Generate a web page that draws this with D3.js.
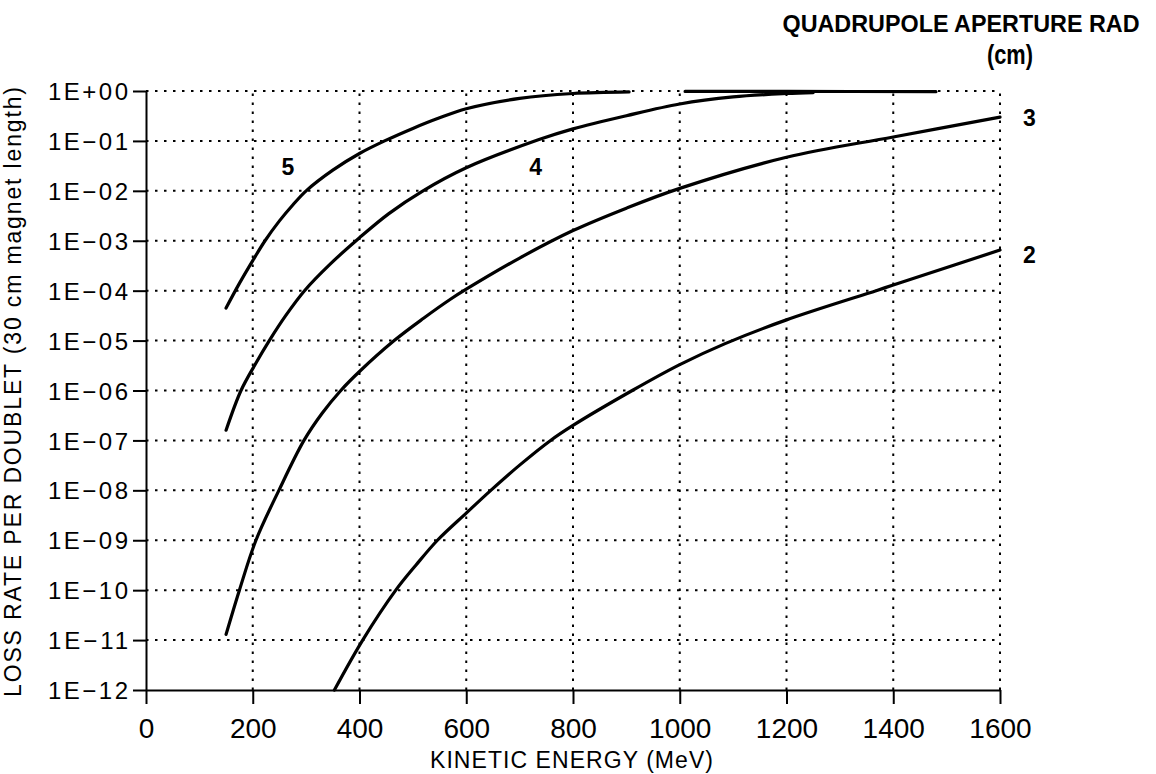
<!DOCTYPE html>
<html><head><meta charset="utf-8">
<script src="https://cdn.jsdelivr.net/npm/d3@7"></script>
<style>
body{margin:0;background:#fff}
svg{display:block}
text{font-family:"Liberation Sans",Arial,sans-serif;fill:#000}
</style>
</head><body>
<svg id="chart" width="1156" height="774"></svg>
<script>
// ---- data ----
const xTicks = [0, 200, 400, 600, 800, 1000, 1200, 1400, 1600];
const xTickLabels = ["0", "200", "400", "600", "800", "1000", "1200", "1400", "1600"];
const yTicks = [1, 1e-1, 1e-2, 1e-3, 1e-4, 1e-5, 1e-6, 1e-7, 1e-8, 1e-9, 1e-10, 1e-11, 1e-12];
const yTickLabels = ["1E+00", "1E\u221201", "1E\u221202", "1E\u221203", "1E\u221204", "1E\u221205", "1E\u221206",
                     "1E\u221207", "1E\u221208", "1E\u221209", "1E\u221210", "1E\u221211", "1E\u221212"];

// aperture radius 5 cm (null marks the break in the drawn line)
const r5Energy = [150, 175, 200, 223, 250, 275, 300, 350, 400, 447, 500, 550, 600, 700, 800, 905, 955, 1010, 1200, 1480];
const r5Loss   = [4.5e-5, 1.4e-4, 4e-4, 1e-3, 2.5e-3, 5.2e-3, 1e-2, 2.6e-2, 5.6e-2, 0.1, 0.178, 0.29, 0.44, 0.71, 0.89, 0.96, null, 0.98, 0.98, 0.97];
// aperture radius 4 cm
const r4Energy = [150, 178, 205, 231, 262, 297, 345, 400, 455, 519, 600, 735, 800, 900, 1000, 1100, 1200, 1250];
const r4Loss   = [1.6e-7, 1e-6, 3.4e-6, 1e-5, 3.2e-5, 1e-4, 3.4e-4, 1.15e-3, 3.5e-3, 1e-2, 2.9e-2, 0.105, 0.174, 0.32, 0.55, 0.76, 0.89, 0.93];
// aperture radius 3 cm
const r3Energy = [150, 175, 206, 249, 296, 330, 365, 400, 465, 520, 571, 600, 700, 800, 900, 1000, 1200, 1400, 1600];
const r3Loss   = [1.3e-11, 1e-10, 1e-9, 1e-8, 1e-7, 3.5e-7, 1e-6, 2.4e-6, 1e-5, 2.8e-5, 6.8e-5, 1.07e-4, 4.5e-4, 1.6e-3, 4.5e-3, 1.12e-2, 4.7e-2, 0.12, 0.3];
// aperture radius 2 cm
const r2Energy = [353, 406, 468, 506, 546, 600, 646, 700, 758, 800, 911, 1000, 1085, 1200, 1368, 1400, 1600];
const r2Loss   = [1e-12, 1e-11, 1e-10, 3.2e-10, 1e-9, 3.5e-9, 1e-8, 3.2e-8, 1e-7, 2e-7, 1e-6, 3.3e-6, 8.7e-6, 2.6e-5, 1e-4, 1.3e-4, 6.5e-4];

const seriesNames = ["5", "4", "3", "2"];
const labelEnergy = [266, 730, 1655, 1655];
const labelLoss = [0.03, 0.03, 0.295, 5.2e-4];

const xTitle = "KINETIC ENERGY (MeV)";
const yTitle = "LOSS RATE PER DOUBLET (30 cm magnet length)";
const legendTitle = "QUADRUPOLE APERTURE RAD";
const legendUnit = "(cm)";

// ---- chart ----
const svg = d3.select("#chart");
const X0 = 146, X1 = 1000, Y0 = 91, Y1 = 690;
const x = d3.scaleLinear().domain([0, 1600]).range([X0, X1]);
const y = d3.scaleLog().domain([1e-12, 1]).range([Y1, Y0]);

// dotted grid
const grid = svg.append("g").attr("stroke", "#000").attr("stroke-width", 2)
  .attr("stroke-dasharray", "2.5,6.5").attr("fill", "none");
grid.selectAll("line.h").data(yTicks.slice(0, -1)).join("line")
  .attr("x1", X0).attr("x2", X1).attr("y1", d => y(d)).attr("y2", d => y(d));
grid.selectAll("line.v").data(xTicks.slice(1)).join("line")
  .attr("x1", d => x(d)).attr("x2", d => x(d)).attr("y1", Y1).attr("y2", Y0);

// axes
const yAxis = svg.append("g").attr("transform", `translate(${X0},0)`)
  .call(d3.axisLeft(y).tickValues(yTicks).tickFormat((d, i) => yTickLabels[i])
    .tickSize(13).tickSizeOuter(0).tickPadding(5));
yAxis.selectAll("text").attr("font-size", 24).attr("font-family", '"Liberation Sans",Arial,sans-serif')
  .attr("textLength", 80).attr("lengthAdjust", "spacing").attr("dy", "0.36em");

const xAxis = svg.append("g").attr("transform", `translate(0,${Y1})`)
  .call(d3.axisBottom(x).tickValues(xTicks).tickFormat((d, i) => xTickLabels[i])
    .tickSize(14).tickSizeOuter(0));
xAxis.selectAll("text").attr("font-size", 28).attr("font-family", '"Liberation Sans",Arial,sans-serif')
  .attr("y", 48).attr("dy", 0);

svg.selectAll(".domain, .tick line").attr("stroke", "#000").attr("stroke-width", 2);
svg.selectAll(".tick text").attr("fill", "#000");

// curves
const series = [
  {e: r5Energy, v: r5Loss},
  {e: r4Energy, v: r4Loss},
  {e: r3Energy, v: r3Loss},
  {e: r2Energy, v: r2Loss}
];
const line = d3.line()
  .defined(d => d[1] != null)
  .x(d => x(d[0])).y(d => y(d[1]))
  .curve(d3.curveCatmullRom.alpha(0.5));
svg.append("g").selectAll("path").data(series).join("path")
  .attr("d", s => line(s.e.map((e, i) => [e, s.v[i]])))
  .attr("fill", "none").attr("stroke", "#000").attr("stroke-width", 3.2)
  .attr("stroke-linecap", "round").attr("stroke-linejoin", "round");

// curve labels
svg.append("g").selectAll("text").data(seriesNames).join("text")
  .attr("x", (d, i) => x(labelEnergy[i])).attr("y", (d, i) => y(labelLoss[i]))
  .attr("dy", "0.36em").attr("text-anchor", "middle")
  .attr("font-size", 23).attr("font-weight", "bold").text(d => d);

// titles
svg.append("text").attr("x", 571.5).attr("y", 768).attr("text-anchor", "middle")
  .attr("font-size", 23).attr("textLength", 283).attr("lengthAdjust", "spacing").text(xTitle);

svg.append("text").attr("transform", "translate(21,392) rotate(-90)").attr("text-anchor", "middle")
  .attr("font-size", 23).attr("textLength", 610).attr("lengthAdjust", "spacing").text(yTitle);

svg.append("text").attr("x", 961).attr("y", 31.7).attr("text-anchor", "middle")
  .attr("font-size", 24).attr("font-weight", "bold")
  .attr("textLength", 357).attr("lengthAdjust", "spacingAndGlyphs").text(legendTitle);

svg.append("text").attr("x", 1010).attr("y", 64).attr("text-anchor", "middle")
  .attr("font-size", 28).attr("font-weight", "bold")
  .attr("textLength", 46).attr("lengthAdjust", "spacingAndGlyphs").text(legendUnit);
</script>
</body></html>
